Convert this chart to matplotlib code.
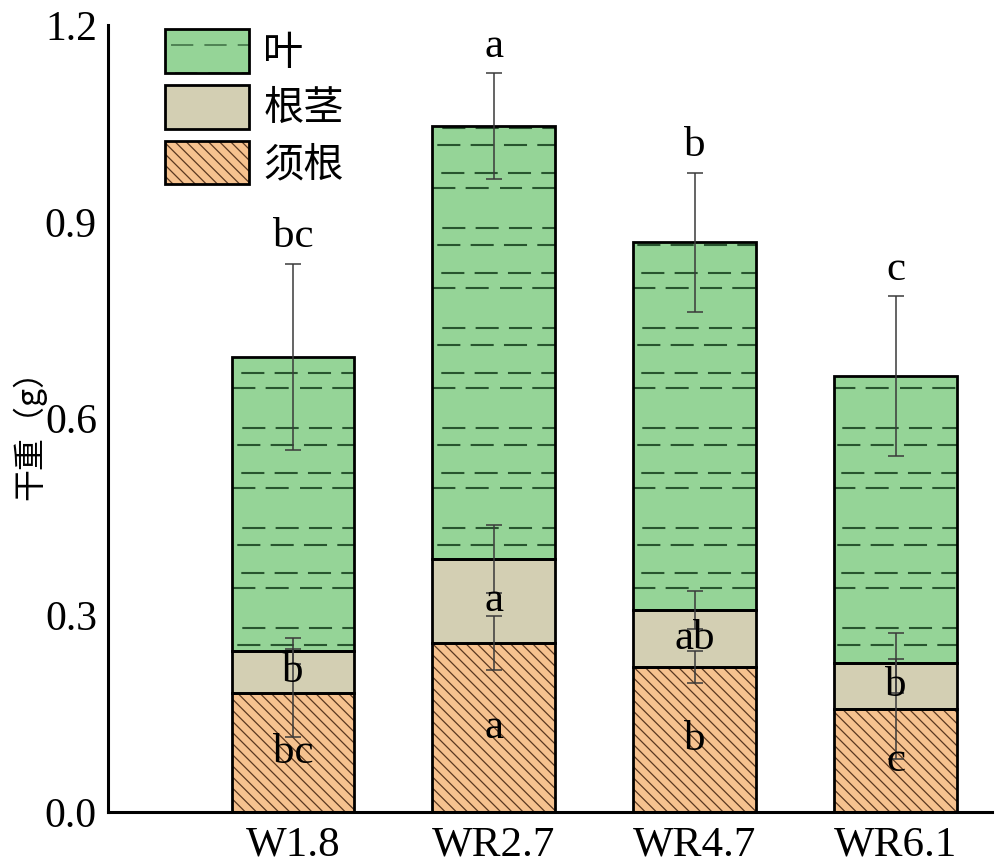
import numpy as np
import matplotlib
matplotlib.use('Agg')
import matplotlib.pyplot as plt
import matplotlib.hatch as mhatch
from matplotlib.path import Path
from matplotlib.patches import Patch

names = ['W1.8', 'WR2.7', 'WR4.7', 'WR6.1']
fine_root = [0.181, 0.258, 0.221, 0.157]     # 须根
rhizome = [0.065, 0.128, 0.087, 0.070]       # 根茎
leaf = [0.448, 0.660, 0.561, 0.438]          # 叶
fine_root_err = [0.067, 0.041, 0.024, 0.076]
rhizome_err = [0.020, 0.052, 0.029, 0.046]
leaf_err = [0.142, 0.081, 0.106, 0.122]
leaf_sig = ['bc', 'a', 'b', 'c']
rhizome_sig = ['b', 'a', 'ab', 'b']
fine_root_sig = ['bc', 'a', 'b', 'c']
yticks = [0.0, 0.3, 0.6, 0.9, 1.2]

leaf_color = '#95d497'
rhizome_color = '#d3cfb3'
root_color = '#f6c28f'
leaf_hatch_color = '#28552f'
root_hatch_color = '#5a3820'


# '-' hatch drawn as short dashes, like the Origin figure
class DashedHorizontal(mhatch.HatchPatternBase):
    rows = [0.12, 0.27, 0.55, 0.72]
    offs = [0.0, 0.09, 0.05, 0.10]
    dash = 0.21

    def __init__(self, hatch, density):
        self.num_vertices = len(self.rows) * 3 * 2 if '-' in hatch else 0

    def set_vertices_and_codes(self, vertices, codes):
        k = 0
        for y, o in zip(self.rows, self.offs):
            for j in range(3):
                x0 = o + j / 3.0
                vertices[k] = (x0, y)
                vertices[k + 1] = (x0 + self.dash, y)
                codes[k] = Path.MOVETO
                codes[k + 1] = Path.LINETO
                k += 2


mhatch._hatch_types = [DashedHorizontal if t is mhatch.HorizontalHatch else t
                       for t in mhatch._hatch_types]

plt.rcParams['font.family'] = ['Liberation Serif', 'Noto Sans CJK SC']
plt.rcParams['hatch.linewidth'] = 0.9

fig = plt.figure(figsize=(10, 8.68), dpi=100)
ax = fig.add_axes([0.108, 0.0645, 0.884, 0.9065])

x = np.arange(len(names))
w = 0.61
fine_root = np.array(fine_root)
rhizome = np.array(rhizome)
leaf = np.array(leaf)
b2 = fine_root + rhizome
b3 = b2 + leaf

# fills (hatch takes the edge colour, so outlines are drawn separately)
ax.bar(x, fine_root, w, color=root_color, hatch='\\\\\\', edgecolor=root_hatch_color, lw=0, zorder=2)
ax.bar(x, rhizome, w, bottom=fine_root, color=rhizome_color, lw=0, zorder=2)
with plt.rc_context({'hatch.linewidth': 1.5}):
    ax.bar(x, leaf, w, bottom=b2, color=leaf_color, hatch='-', edgecolor=leaf_hatch_color, lw=0, zorder=2)
    leaf_handle = Patch(facecolor=leaf_color, hatch='-', edgecolor=leaf_hatch_color, lw=0)
for bottom, h in [(0, fine_root), (fine_root, rhizome), (b2, leaf)]:
    ax.bar(x, h, w, bottom=bottom, fill=False, edgecolor='black', lw=2, zorder=3)

ekw = dict(fmt='none', ecolor='#3a3a3a', elinewidth=1.1, capsize=6, capthick=1.1, zorder=4)
ax.errorbar(x, fine_root, yerr=fine_root_err, **ekw)
ax.errorbar(x, b2, yerr=rhizome_err, **ekw)
ax.errorbar(x, b3, yerr=leaf_err, **ekw)

for i in range(len(names)):
    ax.text(x[i], b3[i] + leaf_err[i] + 0.025, leaf_sig[i], ha='center', va='baseline', fontsize=31, zorder=5)
    ax.text(x[i], fine_root[i] + rhizome[i] / 2, rhizome_sig[i], ha='center', va='center', fontsize=31, zorder=5)
    ax.text(x[i], fine_root[i] / 2, fine_root_sig[i], ha='center', va='center', fontsize=31, zorder=5)

ax.set_xlim(-0.92, 3.48)
ax.set_ylim(0, 1.2)
ax.set_xticks(x)
ax.set_xticklabels(names, fontsize=31)
ax.set_yticks(yticks)
ax.set_yticklabels(['%.1f' % v for v in yticks], fontsize=30)
ax.tick_params(axis='both', length=0)
ax.tick_params(axis='x', pad=10)
ax.tick_params(axis='y', pad=8)
for s in ['top', 'right']:
    ax.spines[s].set_visible(False)
for s in ['left', 'bottom']:
    ax.spines[s].set_linewidth(2.2)

ax.set_ylabel('干重（g）', fontsize=23, family=['Noto Sans CJK SC'])
ax.yaxis.set_label_coords(-0.07, 0.49)

outline = Patch(fill=False, edgecolor='black', lw=2)
handles = [
    (leaf_handle, outline),
    (Patch(facecolor=rhizome_color, lw=0), outline),
    (Patch(facecolor=root_color, hatch='\\\\\\', edgecolor=root_hatch_color, lw=0), outline),
]
ax.legend(handles, ['叶', '根茎', '须根'], loc='upper left', bbox_to_anchor=(0.064, 0.995),
          frameon=False, borderpad=0, borderaxespad=0, handlelength=2.1, handleheight=1.3,
          handletextpad=0.35, labelspacing=0.28, prop={'family': 'Noto Sans CJK SC', 'size': 29})

fig.savefig('out.png', dpi=100)
